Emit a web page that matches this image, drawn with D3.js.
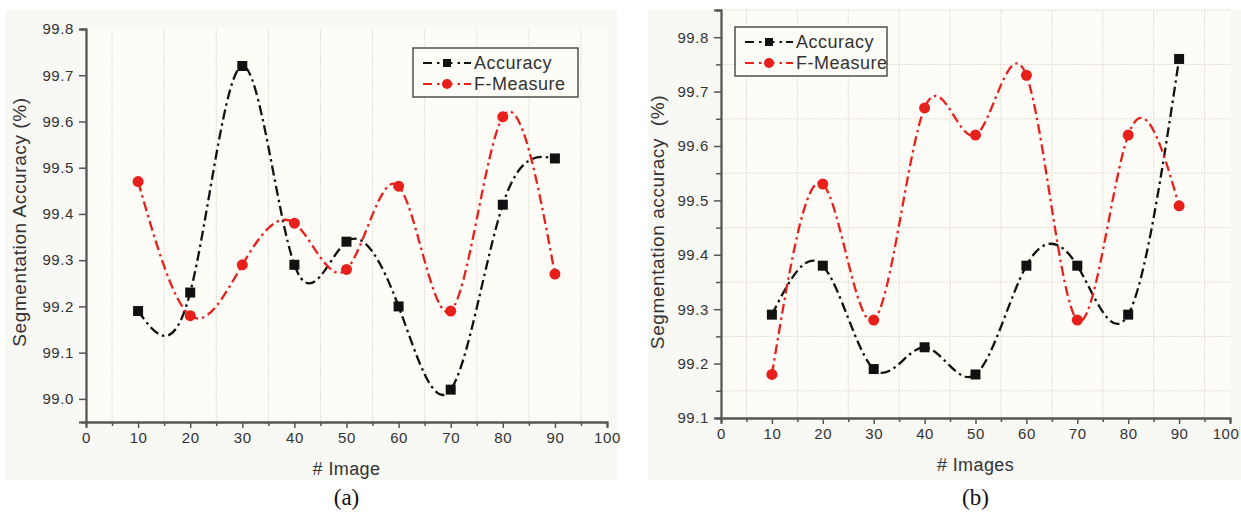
<!DOCTYPE html>
<html>
<head>
<meta charset="utf-8">
<script src="https://cdn.jsdelivr.net/npm/d3@7"></script>
<style>
  body { margin: 0; background: #fff; }
  svg { display: block; }
  text { font-family: "Liberation Sans", Arial, sans-serif; fill: #333; }
</style>
</head>
<body>
<script>
const images = [10, 20, 30, 40, 50, 60, 70, 80, 90]
const accuracyA = [99.19, 99.23, 99.72, 99.29, 99.34, 99.20, 99.02, 99.42, 99.52]
const fmeasureA = [99.47, 99.18, 99.29, 99.38, 99.28, 99.46, 99.19, 99.61, 99.27]
const accuracyB = [99.29, 99.38, 99.19, 99.23, 99.18, 99.38, 99.38, 99.29, 99.76]
const fmeasureB = [99.18, 99.53, 99.28, 99.67, 99.62, 99.73, 99.28, 99.62, 99.49]
const xTicks = [0, 10, 20, 30, 40, 50, 60, 70, 80, 90, 100]
const yTicksA = [99.0, 99.1, 99.2, 99.3, 99.4, 99.5, 99.6, 99.7, 99.8]
const yTicksB = [99.1, 99.2, 99.3, 99.4, 99.5, 99.6, 99.7, 99.8]
const seriesNames = ["Accuracy", "F-Measure"]

const width = 1241
const height = 519
const dash = "10,4,2.5,4"

const svg = d3.select("body").append("svg")
    .attr("width", width)
    .attr("height", height)

function drawPanel(p) {
    const g = svg.append("g")

    // panel background
    g.append("rect")
        .attr("x", p.bg[0]).attr("y", p.bg[1])
        .attr("width", p.bg[2]).attr("height", p.bg[3])
        .attr("fill", "#f8f8f5")

    const x = d3.scaleLinear().domain([0, 100]).range(p.xRange)
    const y = d3.scaleLinear().domain(p.yDomain).range(p.yRange)

    g.append("rect")
        .attr("x", p.xRange[0]).attr("y", p.yRange[1])
        .attr("width", p.xRange[1] - p.xRange[0])
        .attr("height", p.yRange[0] - p.yRange[1])
        .attr("fill", "#fdfcf6")

    // grid sits on the minor ticks
    const xGrid = d3.range(5, 100, 10)
    const yGrid = d3.range(p.yDomain[0] + 0.05, p.yDomain[1] + 0.001, 0.1)
        .filter(v => Math.abs(Math.round(v * 100) % 10) === 5)
    g.append("g").selectAll("line").data(xGrid).join("line")
        .attr("x1", d => x(d)).attr("x2", d => x(d))
        .attr("y1", p.yRange[1]).attr("y2", p.yRange[0])
        .attr("stroke", "#e2ddd5").attr("stroke-width", 1)
        .attr("stroke-dasharray", "2,1")
    g.append("g").selectAll("line").data(yGrid).join("line")
        .attr("x1", p.xRange[0]).attr("x2", p.xRange[1])
        .attr("y1", d => y(d)).attr("y2", d => y(d))
        .attr("stroke", "#e2ddd5").attr("stroke-width", 1)
        .attr("stroke-dasharray", "2,1")

    // axes
    const xAxis = g.append("g")
        .attr("transform", `translate(0,${p.yRange[0]})`)
        .call(d3.axisBottom(x).tickValues(xTicks).tickSize(6).tickPadding(4).tickFormat(d3.format("d")))
    g.append("g")
        .attr("transform", `translate(0,${p.yRange[0]})`)
        .call(d3.axisBottom(x).tickValues(d3.range(5, 100, 10)).tickSize(4).tickFormat(""))
    g.append("g")
        .attr("transform", `translate(${p.xRange[0]},0)`)
        .call(d3.axisLeft(y).tickValues(p.yTicks).tickSize(7).tickPadding(5).tickFormat(d3.format(".1f")))
    g.append("g")
        .attr("transform", `translate(${p.xRange[0]},0)`)
        .call(d3.axisLeft(y).tickValues(yGrid).tickSize(5).tickFormat(""))

    g.selectAll(".domain").attr("stroke", "#555").attr("stroke-width", 1.8)
    g.selectAll(".tick line").attr("stroke", "#555").attr("stroke-width", 1.5)
    g.selectAll(".tick text").attr("font-size", 15).attr("fill", "#333")
        .attr("font-family", "Liberation Sans, Arial, sans-serif")
        .style("letter-spacing", "0.6px")

    // right panel's last label sits against the page edge
    if (p.xRange[1] > width - 20) {
        xAxis.selectAll(".tick text").filter(d => d === 100)
            .attr("text-anchor", "end").attr("dx", width - 2 - p.xRange[1])
    }

    // axis titles
    g.append("text")
        .attr("x", (p.xRange[0] + p.xRange[1]) / 2).attr("y", p.yRange[0] + 53)
        .attr("text-anchor", "middle").attr("font-size", 18)
        .style("letter-spacing", "0.4px")
        .text(p.xTitle)
    g.append("text")
        .attr("transform", `translate(${p.yTitleX},${p.yTitleY}) rotate(-90)`)
        .attr("text-anchor", "middle").attr("font-size", 19)
        .style("white-space", "pre")
        .style("letter-spacing", "0.6px")
        .text(p.yTitle)
    g.append("text")
        .attr("x", (p.xRange[0] + p.xRange[1]) / 2).attr("y", 505)
        .attr("text-anchor", "middle").attr("font-size", 23)
        .style("font-family", "Liberation Serif, Times New Roman, serif")
        .style("fill", "#111")
        .text(p.caption)

    const line = d3.line()
        .x((d, i) => x(images[i]))
        .y(d => y(d))
        .curve(d3.curveNatural)

    const series = [
        { values: p.acc, color: "#111", shape: "square" },
        { values: p.fm, color: "#e8201c", shape: "circle" }
    ]

    series.forEach(s => {
        g.append("path")
            .attr("d", line(s.values))
            .attr("fill", "none")
            .attr("stroke", s.color)
            .attr("stroke-width", 2.3)
            .attr("stroke-dasharray", dash)
        const m = g.append("g").selectAll("g").data(s.values).join("g")
            .attr("transform", (d, i) => `translate(${x(images[i])},${y(d)})`)
        if (s.shape === "square") {
            m.append("rect").attr("x", -5).attr("y", -5).attr("width", 10).attr("height", 10).attr("fill", s.color)
        } else {
            m.append("circle").attr("r", 5.5).attr("fill", s.color)
        }
    })

    // legend
    const lg = g.append("g").attr("transform", `translate(${p.legend[0]},${p.legend[1]})`)
    lg.append("rect")
        .attr("width", p.legend[2]).attr("height", 49)
        .attr("fill", "#fdfcf6").attr("stroke", "#444").attr("stroke-width", 1.4)
    series.forEach((s, i) => {
        const ly = 15 + i * 21
        lg.append("line")
            .attr("x1", 10).attr("x2", 58).attr("y1", ly).attr("y2", ly)
            .attr("stroke", s.color).attr("stroke-width", 2.2).attr("stroke-dasharray", "9,5,2.5,4")
        if (s.shape === "square") {
            lg.append("rect").attr("x", 30).attr("y", ly - 4).attr("width", 8).attr("height", 8).attr("fill", s.color)
        } else {
            lg.append("circle").attr("cx", 34).attr("cy", ly).attr("r", 5).attr("fill", s.color)
        }
        lg.append("text")
            .attr("x", 61).attr("y", ly + 6)
            .attr("font-size", 18)
            .style("letter-spacing", "0.5px")
            .text(seriesNames[i])
    })
}

drawPanel({
    bg: [5, 10, 612, 470],
    xRange: [86, 607],
    yDomain: [98.95, 99.8],
    yRange: [422, 29],
    yTicks: yTicksA,
    acc: accuracyA,
    fm: fmeasureA,
    xTitle: "# Image",
    yTitle: "Segmentation Accuracy (%)",
    yTitleX: 26,
    yTitleY: 222,
    caption: "(a)",
    legend: [413, 48, 165]
})

drawPanel({
    bg: [648, 10, 593, 470],
    xRange: [721, 1230],
    yDomain: [99.1, 99.85],
    yRange: [418, 10],
    yTicks: yTicksB,
    acc: accuracyB,
    fm: fmeasureB,
    xTitle: "# Images",
    yTitle: "Segmentation accuracy  (%)",
    yTitleX: 664,
    yTitleY: 222,
    caption: "(b)",
    legend: [735, 27, 152]
})
</script>
</body>
</html>
